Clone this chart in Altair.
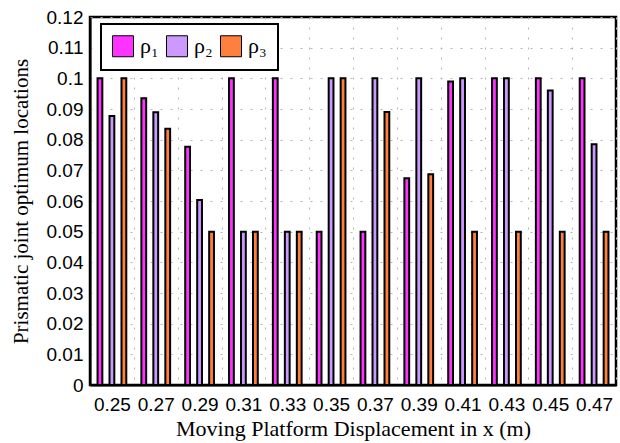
import altair as alt
import pandas as pd

# Moving platform displacement (m)
x_labels = ["0.25", "0.27", "0.29", "0.31", "0.33", "0.35",
            "0.37", "0.39", "0.41", "0.43", "0.45", "0.47"]

# Optimum prismatic joint locations per joint
rho1 = [0.1, 0.0935, 0.0777, 0.1, 0.1, 0.05, 0.05, 0.0674, 0.099, 0.1, 0.1, 0.1]
rho2 = [0.0877, 0.0889, 0.0603, 0.05, 0.05, 0.1, 0.1, 0.1, 0.1, 0.1, 0.096, 0.0785]
rho3 = [0.1, 0.0836, 0.05, 0.05, 0.05, 0.1, 0.089, 0.0687, 0.05, 0.05, 0.05, 0.05]

series_names = ["ρ₁", "ρ₂", "ρ₃"]
series_colors = ["#FF33FF", "#CC99FF", "#FF7F3F"]

rows = []
for name, vals in zip(series_names, [rho1, rho2, rho3]):
    for xl, v in zip(x_labels, vals):
        rows.append({"x": xl, "joint": name, "value": v})
df = pd.DataFrame(rows)

y_ticks = [round(i * 0.01, 2) for i in range(13)]

chart = alt.Chart(df).mark_bar(stroke="black", strokeWidth=2).encode(
    x=alt.X(
        "x:N",
        sort=x_labels,
        scale=alt.Scale(paddingInner=0, paddingOuter=0),
        axis=alt.Axis(
            title="Moving Platform Displacement in x (m)",
            labelAngle=0,
            ticks=False,
            tickBand="extent",
            grid=True,
            labelPadding=10,
            titlePadding=4,
            titleFontSize=22,
        ),
    ),
    xOffset=alt.XOffset(
        "joint:N",
        sort=series_names,
        scale=alt.Scale(paddingInner=0.6, paddingOuter=0.63),
    ),
    y=alt.Y(
        "value:Q",
        scale=alt.Scale(domain=[0, 0.12], nice=False),
        axis=alt.Axis(
            title="Prismatic joint optimum locations",
            values=y_ticks,
            format=".2~f",
            ticks=False,
            grid=True,
            labelPadding=7,
            titleFontSize=21,
            titleX=-69,
            titleBaseline="middle",
        ),
    ),
    fill=alt.Fill(
        "joint:N",
        sort=series_names,
        scale=alt.Scale(domain=series_names, range=series_colors),
        legend=alt.Legend(
            title=None,
            orient="none",
            legendX=11,
            legendY=7,
            direction="horizontal",
            symbolType="square",
            symbolSize=441,
            symbolStrokeColor="black",
            symbolStrokeWidth=1,
            symbolOpacity=1,
            labelFont="Liberation Serif",
            labelFontSize=22,
            labelColor="black",
            labelOffset=6,
            columnPadding=5,
            padding=11,
            fillColor="white",
            strokeColor="black",
        ),
    ),
).properties(
    width=526,
    height=368,
    autosize=alt.AutoSizeParams(type="none"),
    padding={"left": 90, "top": 17, "right": 4, "bottom": 58},
).configure_view(
    stroke="black",
    strokeWidth=2.5,
).configure_axis(
    domainColor="black",
    domainWidth=2,
    gridColor="#b4b4b4",
    gridDash=[2, 8],
    gridWidth=1,
    labelFont="Liberation Sans",
    labelFontSize=19,
    labelColor="black",
    titleFont="Liberation Serif",
    titleFontWeight="normal",
    titleColor="black",
).configure_legend(
    strokeWidth=2,
)

chart.save("out.html", embed_options={"renderer": "svg", "actions": False})
